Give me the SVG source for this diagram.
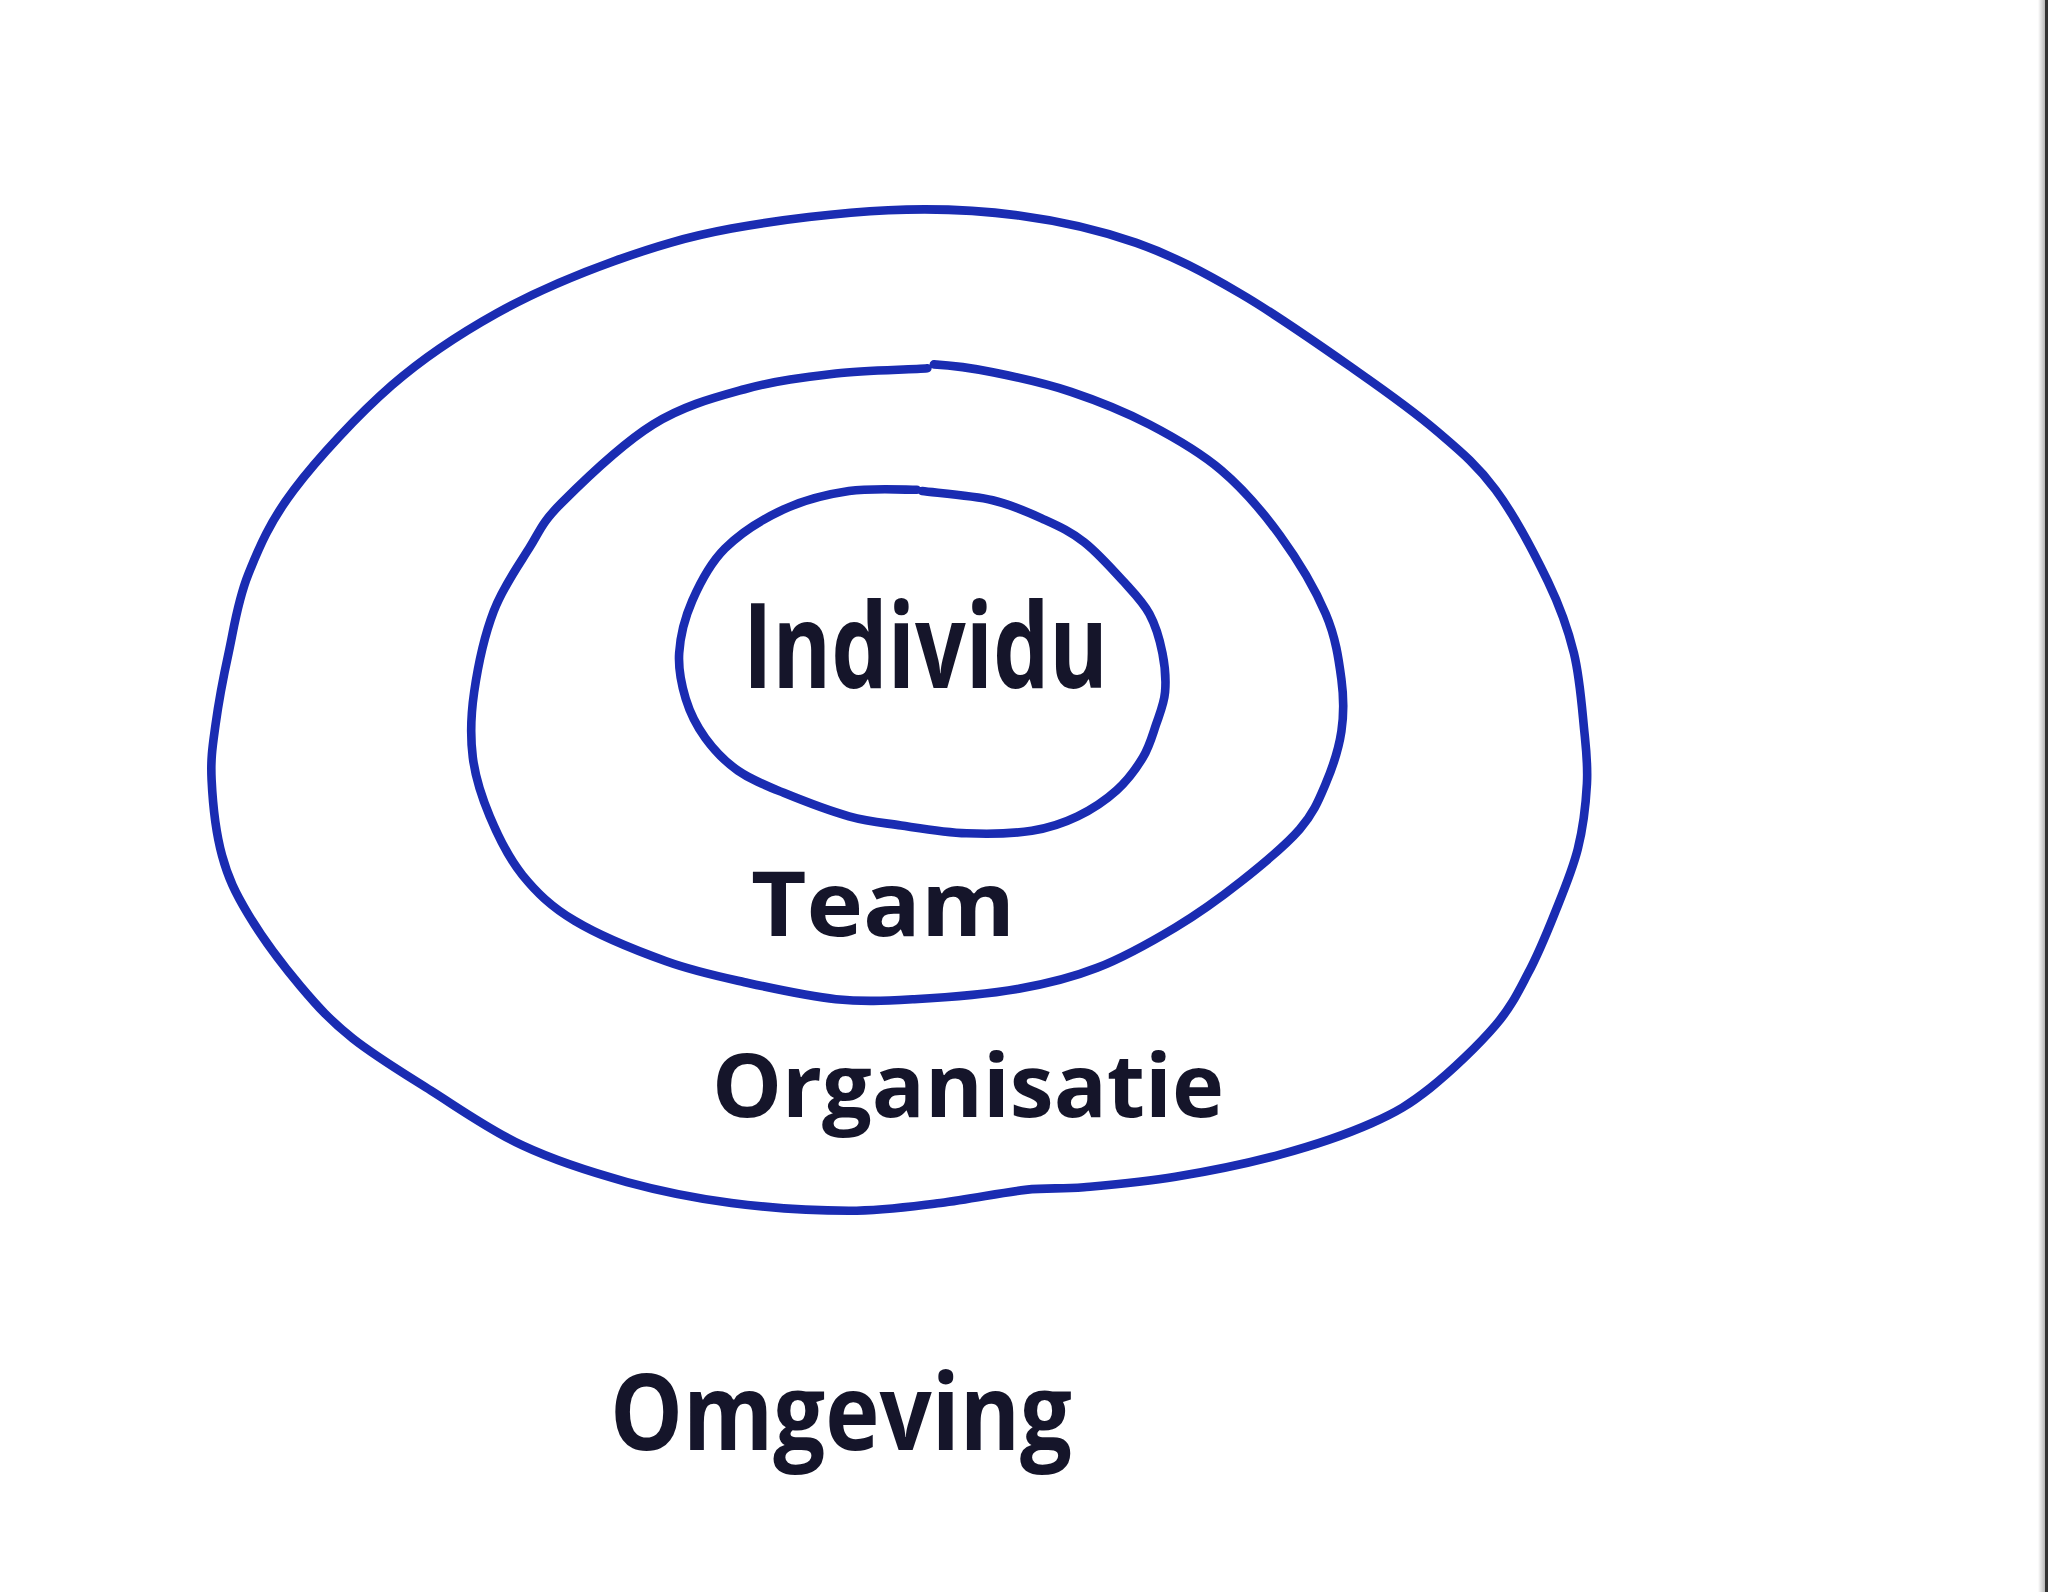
<svg xmlns="http://www.w3.org/2000/svg" width="2048" height="1592" viewBox="0 0 2048 1592">
  <style>
    .ring { fill: none; stroke: #1a2cb2; stroke-width: 6.6; stroke-linecap: round; stroke-linejoin: round; }
    .label { font-family: "Open Sans", "Noto Sans", "Liberation Sans", sans-serif; font-weight: 700; fill: #15152a; }
  </style>
  <defs>
    <linearGradient id="edge" x1="0" y1="0" x2="1" y2="0">
      <stop offset="0" stop-color="#ffffff"/>
      <stop offset="1" stop-color="#b8b8b8"/>
    </linearGradient>
  </defs>
  <rect x="0" y="0" width="2048" height="1592" fill="#ffffff"/>
  <rect x="2038" y="0" width="7" height="1592" fill="url(#edge)"/>
  <rect x="2045" y="0" width="3" height="1592" fill="#333333"/>

  <g id="rings" transform="scale(1.30612)">
    <g id="node-organisatie">
      <path class="ring" d="M680,161 C716.7,159.3 748.3,160.8 780,165 S841.7,176 870,186 S921.7,208.5 950,225 S1015,267.5 1040,285 S1082.5,315 1100,330 S1130.8,355.8 1145,375 S1175,424.2 1185,445 S1200.3,480.8 1205,500 S1211.3,543.3 1213,560 S1215.8,585 1215,600 S1212.2,633.3 1208,650 S1196.3,684.2 1190,700 S1177.5,730.8 1170,745 S1157.5,770.3 1145,785 S1110.8,820.5 1095,833 S1069.2,851.5 1050,860 S1005,877.2 980,884 S925,896.8 900,901 S849.2,907.3 830,909 S803.3,909 785,911 S742.5,918.3 720,921 S676.7,927 650,927 S588.3,924.7 560,921 S506.7,912.3 480,905 S425,888.7 400,877 S351.7,848.7 330,835 S286.7,808.3 270,795 S243.3,770.8 230,755 S200,716.7 190,700 S174.7,672.2 170,655 S162.8,613.7 162,597 S162.8,571.2 165,555 S170.8,519.2 175,500 S181.7,460.8 190,440 S206.7,399.2 225,375 S274.2,317.5 300,295 S351.7,255.8 380,240 S440,210.8 470,200 S525,181.5 560,175 S643.3,162.7 680,161 Z"/>
    </g>
    <g id="node-team">
      <path class="ring" d="M715,279 C723.3,279.5 742.5,281.5 760,285 S800,293.3 820,300 S860.8,315 880,325 S918.3,345.8 935,360 S966.7,391.7 980,410 S1007.2,451.7 1015,470 S1025,505 1027,520 S1029,546.7 1027,560 S1020.3,587.5 1015,600 S1005.8,622.5 995,635 S965.8,662.5 950,675 S918.3,699 900,710 S860,733.2 840,741 S803.3,753 780,757 S723.3,763.7 700,765 S661.7,767.2 640,765 S591.7,756.8 570,752 S531.7,743.8 510,736 S458.3,716 440,705 S410.8,683.3 400,670 S381.3,640 375,625 S364,595.8 362,580 S360.3,548.7 363,530 S371,486.3 378,468 S396.3,433.8 405,420 S414.2,400.8 430,385 S476.7,339.5 500,325 S546.7,304.5 570,298 S616.7,288.7 640,286 S697.5,283.2 710,282"/>
    </g>
    <g id="node-individu">
      <path class="ring" d="M706,376 C715.7,377.3 744.3,379.3 760,383 S788.3,392.7 800,398 S820,407.2 830,415 S851.7,435.8 860,445 S875,460.8 880,470 S888,490 890,500 S892.8,520.8 892,530 S887.8,546.7 885,555 S880,571.7 875,580 S863.3,597.5 855,605 S835.8,619.8 825,625 S804.2,633.8 790,636 S756.7,638.7 740,638 S705,634.2 690,632 S665,629.2 650,625 S614.2,612.8 600,607 S575,597 565,590 S546.7,574.2 540,565 S528.3,545.8 525,535 S519.2,512.5 520,500 S524.2,473.3 530,460 S543.3,431.7 555,420 S584.2,397.3 600,390 S633,378.5 650,376 S692.7,375 702,375"/>
    </g>
  </g>

  <g id="labels">
    <text id="label-individu" class="label" x="743" y="688" font-size="119" textLength="365" lengthAdjust="spacingAndGlyphs">Individu</text>
    <text id="label-team" class="label" x="751" y="936" font-size="90" textLength="264" lengthAdjust="spacingAndGlyphs">Team</text>
    <text id="label-organisatie" class="label" x="712" y="1117" font-size="87" textLength="512" lengthAdjust="spacingAndGlyphs">Organisatie</text>
    <text id="label-omgeving" class="label" x="610" y="1450" font-size="105" textLength="462" lengthAdjust="spacingAndGlyphs">Omgeving</text>
  </g>
  <g id="connectors"/>
</svg>
